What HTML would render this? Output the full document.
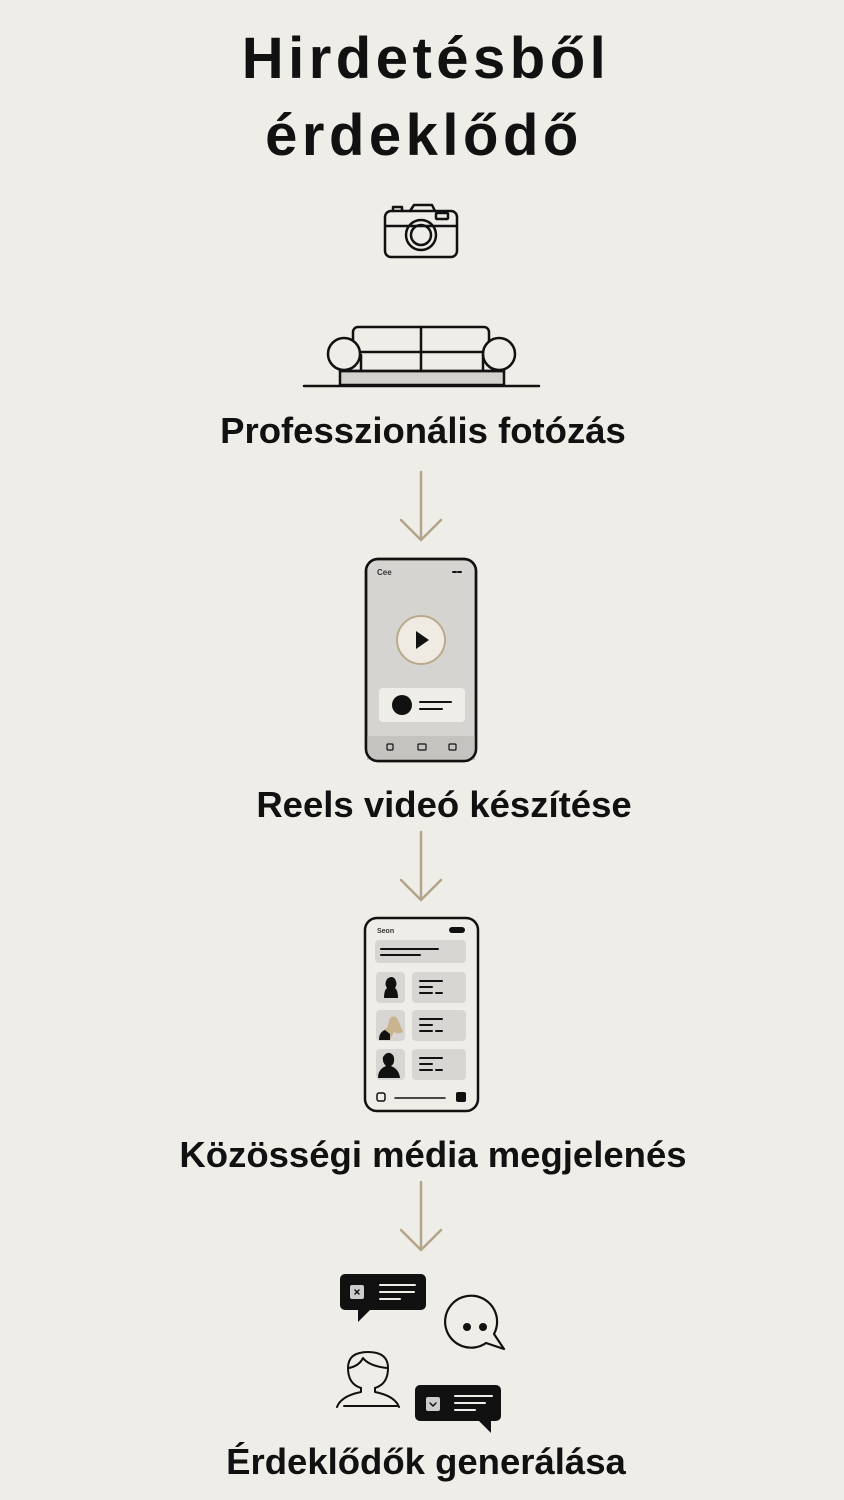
<!DOCTYPE html>
<html><head><meta charset="utf-8"><style>
body{margin:0;width:844px;height:1500px;background:#efede8;overflow:hidden;position:relative;font-family:"Liberation Sans",sans-serif;}
.t{position:absolute;left:0;width:844px;text-align:center;font-weight:bold;color:#111;white-space:nowrap}
</style></head><body>
<div class="t" style="top:26px;font-size:58px;letter-spacing:4.5px;line-height:66px;left:4px">Hirdetésből</div>
<div class="t" style="top:103px;font-size:58px;letter-spacing:4.5px;line-height:66px;left:2px">érdeklődő</div>
<div class="t" style="top:410px;font-size:36.5px;line-height:42px;left:1px">Professzionális fotózás</div>
<div class="t" style="top:784px;font-size:36.5px;line-height:42px;left:22px">Reels videó készítése</div>
<div class="t" style="top:1134px;font-size:36.5px;line-height:42px;left:11px">Közösségi média megjelenés</div>
<div class="t" style="top:1441px;font-size:36.5px;line-height:42px;left:4px">Érdeklődők generálása</div>
<svg width="844" height="1500" style="position:absolute;left:0;top:0" fill="none" stroke="#111" stroke-width="2.5" stroke-linecap="round" stroke-linejoin="round">
<!-- camera -->
<rect x="385" y="211" width="72" height="46" rx="6"/>
<path d="M386 226H457"/>
<path d="M393 211v-4h9v4M410 211l4-6h18l3 6"/>
<rect x="436" y="213" width="12" height="6" rx="1"/>
<circle cx="421" cy="235" r="15"/><circle cx="421" cy="235" r="10"/>
<!-- sofa -->
<rect x="340" y="371" width="164" height="14" fill="#d4d2cd"/>
<path d="M353 352v-20a5 5 0 0 1 5-5h126a5 5 0 0 1 5 5v20"/>
<path d="M421 327v44M353 352h136"/>
<circle cx="344" cy="354" r="16" fill="#efede8"/><circle cx="499" cy="354" r="16" fill="#efede8"/>
<path d="M361 355v16M483 355v16M340 371h164"/>
<path d="M304 386H539"/>
<!-- arrows -->
<g stroke="#b3a589" stroke-width="2.5">
<path d="M421 472v68M401 520l20 20 20-20"/>
<path d="M421 832v68M401 880l20 20 20-20"/>
<path d="M421 1182v68M401 1230l20 20 20-20"/>
</g>
<!-- phone1 -->
<rect x="366" y="559" width="110" height="202" rx="12" fill="#d5d4d0"/>
<rect x="367" y="736" width="108" height="24" fill="#c4c3bf" stroke="none"/>
<rect x="366" y="559" width="110" height="202" rx="12"/>
<circle cx="421" cy="640" r="24" fill="#efebe3" stroke="#bba98b" stroke-width="2"/>
<path d="M416 631v18l13-9z" fill="#111" stroke="none"/>
<rect x="379" y="688" width="86" height="34" rx="4" fill="#efede8" stroke="none"/>
<circle cx="402" cy="705" r="10" fill="#111" stroke="none"/>
<path d="M420 702h31M420 709h22" stroke-width="2"/>
<text x="377" y="575" font-size="8" fill="#333" stroke="none" font-weight="bold">Cee</text>
<path d="M453 572h10" stroke-width="2" stroke-dasharray="3 2"/>
<g stroke-width="1.2"><rect x="387" y="744" width="6" height="6" rx="1"/><rect x="418" y="744" width="8" height="6" rx="1"/><rect x="449" y="744" width="7" height="6" rx="1"/></g>
<!-- phone2 -->
<rect x="365" y="918" width="113" height="193" rx="12" fill="#efede8"/>
<text x="377" y="933" font-size="7" fill="#333" stroke="none" font-weight="bold">Seon</text>
<rect x="449" y="927" width="16" height="6" rx="3" fill="#111" stroke="none"/>
<rect x="375" y="940" width="91" height="23" rx="4" fill="#d8d6d2" stroke="none"/>
<path d="M381 949h57M381 955h39" stroke-width="2"/>
<g stroke="none">
<rect x="376" y="972" width="29" height="31" rx="4" fill="#d8d6d2"/><rect x="412" y="972" width="54" height="31" rx="4" fill="#d8d6d2"/>
<rect x="376" y="1010" width="29" height="31" rx="4" fill="#d8d6d2"/><rect x="412" y="1010" width="54" height="31" rx="4" fill="#d8d6d2"/>
<rect x="376" y="1049" width="29" height="31" rx="4" fill="#d8d6d2"/><rect x="412" y="1049" width="54" height="31" rx="4" fill="#d8d6d2"/>
<path d="M384 998q0-8 3-10q-3-4 0-9q5-4 8 0q3 5 0 9q3 2 3 10z" fill="#111"/>
<path d="M379 1040q2-10 8-12l3-10q5-4 8 2l5 12q-5 3-9 0l-4 8z" fill="#c8b48e"/>
<path d="M379 1040q0-8 6-10l5 4v6z" fill="#111"/>
<path d="M378 1078q0-9 8-12q-4-4-3-9q3-5 7-4q5 2 4 8q0 3-3 5q8 3 9 12z" fill="#111"/>
</g>
<g stroke-width="2"><path d="M420 981h22M420 987h12M420 993h12M436 993h6"/><path d="M420 1019h22M420 1025h12M420 1031h12M436 1031h6"/><path d="M420 1058h22M420 1064h12M420 1070h12M436 1070h6"/></g>
<rect x="377" y="1093" width="8" height="8" rx="2" stroke-width="1.5"/>
<path d="M395 1098h50" stroke-width="1.5"/>
<rect x="456" y="1092" width="10" height="10" rx="2" fill="#111" stroke="none"/>
<!-- leads -->
<path d="M345 1274h76a5 5 0 0 1 5 5v26a5 5 0 0 1-5 5H370l-12 12v-12h-13a5 5 0 0 1-5-5v-26a5 5 0 0 1 5-5z" fill="#111" stroke="none"/>
<rect x="350" y="1285" width="14" height="14" rx="2" fill="#ccc" stroke="none"/>
<path d="M355 1290l4 4M359 1290l-4 4" stroke-width="1.5"/>
<path d="M380 1285h35M380 1292h34M380 1299h20" stroke="#efede8" stroke-width="2"/>
<path d="M420 1385h76a5 5 0 0 1 5 5v26a5 5 0 0 1-5 5h-5v12l-12-12h-59a5 5 0 0 1-5-5v-26a5 5 0 0 1 5-5z" fill="#111" stroke="none"/>
<rect x="426" y="1397" width="14" height="14" rx="2" fill="#ccc" stroke="none"/>
<path d="M430 1403l3 3 3-3" stroke-width="1.5"/>
<path d="M455 1396h37M455 1403h30M455 1410h20" stroke="#efede8" stroke-width="2"/>
<path d="M486 1343a26 26 0 1 1 8-9l10 15z" stroke-width="2.2"/>
<circle cx="467" cy="1327" r="4" fill="#111" stroke="none"/><circle cx="483" cy="1327" r="4" fill="#111" stroke="none"/>
<path d="M361 1388q-13-4-13-20q0-16 20-16q20 0 20 16q0 16-13 20" stroke-width="2"/>
<path d="M349 1368q10-2 14-10q6 8 24 10" stroke-width="2"/>
<path d="M361 1388v4q-20 4-24 15M375 1388v4q20 4 24 15M344 1406h53" stroke-width="2"/>
</svg>
</body></html>
